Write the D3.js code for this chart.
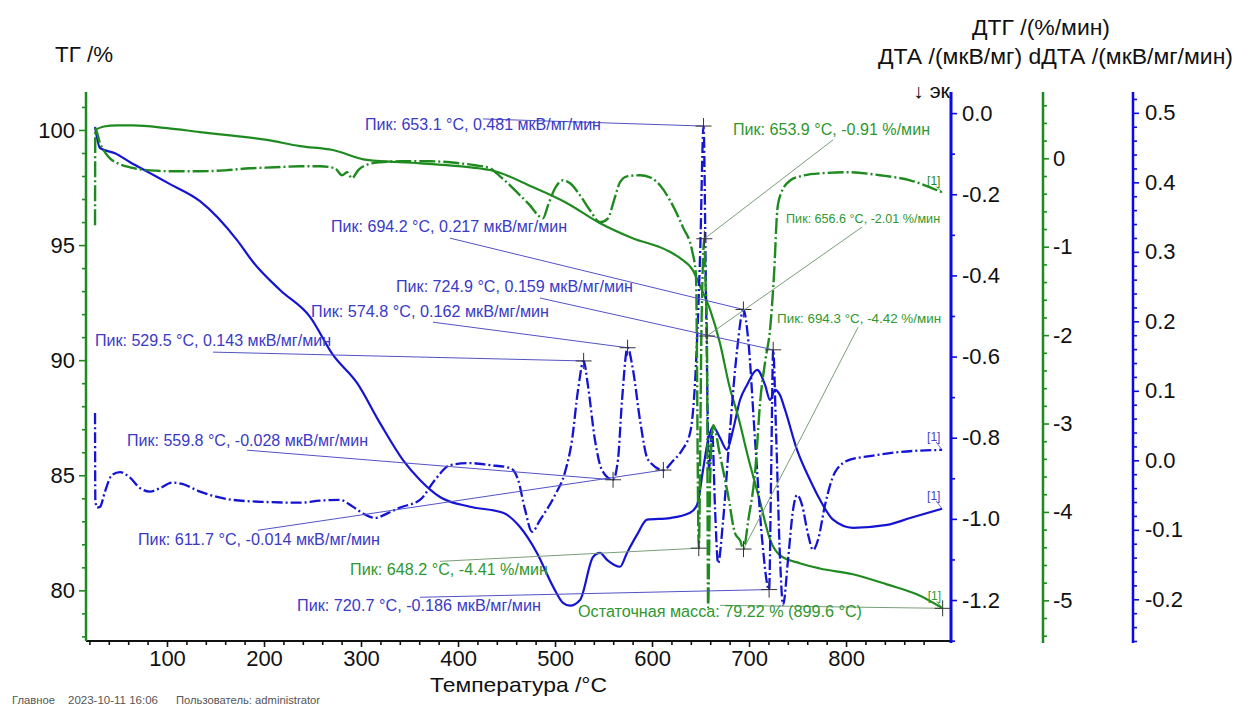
<!DOCTYPE html>
<html><head><meta charset="utf-8">
<script src="https://cdn.jsdelivr.net/npm/d3@7"></script>
<style>
body{margin:0;background:#fff;}
svg{display:block;font-family:"Liberation Sans",Arial,sans-serif;}
</style>
</head><body>
<svg id="c" width="1237" height="705"></svg>
<script>
// ---------------- DATA ----------------
// TG (%) vs temperature (°C)
const tgT = [25.8, 35, 48.5, 65, 100, 134, 170, 203, 237, 271, 306, 361, 433, 477, 512, 546, 580, 615, 629, 642, 650, 660, 670, 680, 689, 698, 711, 722, 732, 753, 773, 807, 842, 873, 899.6];
const tgV = [100.0, 100.15, 100.2, 100.2, 100.08, 99.91, 99.74, 99.57, 99.3, 99.13, 98.7, 98.55, 98.26, 97.52, 96.83, 95.96, 95.3, 94.78, 94.43, 93.91, 93.17, 92.17, 90.74, 88.83, 87.52, 85.96, 83.91, 82.17, 81.52, 81.17, 80.95, 80.7, 80.26, 79.83, 79.22];

// DTA (мкВ/мг)
const dtaT = [25.8, 30.9, 46.4, 61.9, 82.5, 103.1, 134, 172.2, 188.7, 216.5, 247.4, 271.1, 295.9, 319.6, 343.3, 360.8, 381.4, 412.4, 446.4, 463.9, 481.4, 498, 508.2, 515.5, 525.8, 539.2, 546.4, 553.6, 567, 574.2, 584.6, 594.9, 618.6, 639.2, 646.4, 652.6, 657.8, 662.9, 670.1, 677.3, 683.5, 690.7, 697.9, 708.3, 716.5, 721.6, 726.8, 731.9, 737.1, 749.5, 762.9, 773.2, 786.6, 807.2, 842.3, 866, 899];
const dtaV = [-0.034, -0.086, -0.099, -0.121, -0.148, -0.175, -0.217, -0.313, -0.367, -0.436, -0.502, -0.596, -0.665, -0.764, -0.855, -0.904, -0.946, -0.970, -0.985, -1.02, -1.084, -1.167, -1.207, -1.214, -1.2, -1.094, -1.084, -1.101, -1.118, -1.084, -1.039, -1.002, -0.998, -0.985, -0.966, -0.879, -0.805, -0.773, -0.8, -0.83, -0.781, -0.707, -0.67, -0.633, -0.67, -0.707, -0.682, -0.695, -0.731, -0.83, -0.904, -0.953, -1.002, -1.022, -1.015, -0.998, -0.975];

// DTG (%/мин)
const dtgT = [25.8, 26.1, 30.9, 36.1, 41.2, 51.6, 61.9, 82.5, 108.3, 134, 159.8, 185.6, 211.3, 237.1, 257.7, 273.2, 280.4, 285.6, 290.7, 296.9, 307.2, 319.6, 340.2, 371.1, 402.1, 417.5, 433, 443.3, 453.6, 463.9, 474.2, 482.5, 487.6, 492.8, 500, 508.2, 515.5, 525.8, 536.1, 546.4, 554.6, 560.8, 567, 574.2, 587.6, 597.9, 608.2, 618.5, 631.9, 641.2, 645.3, 648.2, 651.1, 653.9, 655.1, 656.6, 657.8, 659.9, 663, 670.1, 678.4, 685.6, 690.7, 694.3, 699.2, 706.4, 711.6, 716.8, 721.9, 726, 729.1, 732.2, 742.5, 752.6, 773.2, 804.1, 835, 866, 899];
const dtgV = [-0.758, 0.339, 0.170, 0.068, 0, -0.068, -0.102, -0.136, -0.147, -0.147, -0.136, -0.113, -0.102, -0.09, -0.09, -0.113, -0.192, -0.158, -0.226, -0.136, -0.068, -0.045, -0.034, -0.034, -0.057, -0.079, -0.113, -0.204, -0.305, -0.419, -0.532, -0.645, -0.679, -0.532, -0.339, -0.249, -0.283, -0.419, -0.588, -0.724, -0.679, -0.475, -0.271, -0.204, -0.192, -0.215, -0.305, -0.475, -0.781, -1.041, -1.324, -4.41, -1.833, -0.91, -1.38, -2.01, -5.079, -3.643, -3.02, -3.36, -3.812, -4.242, -4.321, -4.42, -4.095, -3.529, -2.738, -2.285, -1.912, -1.267, -0.588, -0.419, -0.249, -0.204, -0.17, -0.158, -0.192, -0.249, -0.385];

// dDTA (мкВ/мг/мин)
const ddtaT = [25.8, 26.1, 27.8, 30.9, 36.1, 43.3, 51.6, 61.9, 72.2, 82.5, 92.8, 105.2, 115.5, 134, 168, 203.1, 237.1, 257.7, 278.4, 291.8, 304.1, 314.4, 327.8, 340.2, 360.8, 376.3, 391.8, 412.4, 433, 453.6, 461.9, 469.1, 476.3, 484.5, 500, 510.3, 517.5, 523.7, 529.5, 533.8, 541.2, 548.4, 559.8, 564.9, 569.1, 574.8, 580.4, 587.6, 595.8, 611.7, 620.8, 631.1, 639.3, 644.5, 649.7, 653.1, 655.7, 658.8, 661.9, 665, 668.1, 673.3, 680.4, 687.7, 694.2, 699.2, 706.2, 713.5, 720.7, 722.7, 724.9, 727.8, 732, 735.1, 740.2, 745.4, 749.5, 754.6, 760.9, 766, 771.2, 778.4, 788.7, 804.1, 824.7, 855.7, 899];
const ddtaV = [0.068, -0.057, -0.068, -0.067, -0.045, -0.021, -0.017, -0.025, -0.040, -0.045, -0.040, -0.032, -0.034, -0.045, -0.057, -0.060, -0.061, -0.058, -0.057, -0.067, -0.078, -0.083, -0.076, -0.068, -0.057, -0.028, -0.007, -0.004, -0.007, -0.011, -0.028, -0.071, -0.103, -0.086, -0.050, -0.017, 0.029, 0.101, 0.143, 0.109, 0.029, -0.014, -0.028, 0.001, 0.087, 0.162, 0.130, 0.058, 0.001, -0.014, -0.002, 0.015, 0.040, 0.116, 0.303, 0.481, 0.231, -0.014, 0.044, -0.071, -0.148, -0.086, 0.044, 0.159, 0.217, 0.173, 0.029, -0.114, -0.186, -0.028, 0.159, 0.044, -0.143, -0.208, -0.143, -0.071, -0.050, -0.064, -0.107, -0.129, -0.114, -0.064, -0.017, 0.001, 0.006, 0.012, 0.015];

// tick labels
const xTicks = [100, 200, 300, 400, 500, 600, 700, 800];
const tgTicks = [80, 85, 90, 95, 100];
const dtaTicks = [-1.2, -1.0, -0.8, -0.6, -0.4, -0.2, 0.0];
const dtgTicks = [-5, -4, -3, -2, -1, 0];
const ddtaTicks = [-0.2, -0.1, 0.0, 0.1, 0.2, 0.3, 0.4, 0.5];

// peak annotations: text, temperature, value, curve
const noteText = ["Пик: 653.1 °C, 0.481 мкВ/мг/мин", "Пик: 694.2 °C, 0.217 мкВ/мг/мин", "Пик: 724.9 °C, 0.159 мкВ/мг/мин", "Пик: 574.8 °C, 0.162 мкВ/мг/мин", "Пик: 529.5 °C, 0.143 мкВ/мг/мин", "Пик: 559.8 °C, -0.028 мкВ/мг/мин", "Пик: 611.7 °C, -0.014 мкВ/мг/мин", "Пик: 720.7 °C, -0.186 мкВ/мг/мин", "Пик: 653.9 °C, -0.91 %/мин", "Пик: 656.6 °C, -2.01 %/мин", "Пик: 694.3 °C, -4.42 %/мин", "Пик: 648.2 °C, -4.41 %/мин", "Остаточная масса: 79.22 % (899.6 °C)"];
const noteT = [653.1, 694.2, 724.9, 574.8, 529.5, 559.8, 611.7, 720.7, 653.9, 656.6, 694.3, 648.2, 899.6];
const noteV = [0.481, 0.217, 0.159, 0.162, 0.143, -0.028, -0.014, -0.186, -0.91, -2.01, -4.42, -4.41, 79.22];
const noteCurve = ["ddta", "ddta", "ddta", "ddta", "ddta", "ddta", "ddta", "ddta", "dtg", "dtg", "dtg", "dtg", "tg"];

// ---------------- LAYOUT ----------------
const plot = {left: 86, right: 951, top: 92, bottom: 641};
const x = d3.scaleLinear().domain([16.5, 908.2]).range([plot.left, plot.right]);
const yTG = d3.scaleLinear().domain([77.8, 101.65]).range([plot.bottom, plot.top]);
const yDTA = d3.scaleLinear().domain([-1.301, 0.052]).range([plot.bottom, plot.top]);
const yDTG = d3.scaleLinear().domain([-5.46, 0.75]).range([plot.bottom, plot.top]);
const yDD = d3.scaleLinear().domain([-0.26, 0.53]).range([plot.bottom, plot.top]);
const yOf = {tg: yTG, dta: yDTA, dtg: yDTG, ddta: yDD};

// label placement in (temperature, TG-axis units): label x, label y, leader start x, leader start y, width
const notePos = [
  [304.1, 100.0, 425.8, 100.48, 236],
  [269.1, 95.57, 391.8, 95.30, 236],
  [336.1, 92.96, 484.5, 92.70, 237],
  [248.5, 91.87, 374.2, 91.65, 238],
  [25.8, 90.61, 147.4, 90.35, 236],
  [58.8, 86.26, 182.5, 86.09, 241],
  [70.1, 81.96, 193.8, 82.61, 242],
  [234, 79.09, 360.8, 79.70, 244],
  [683.5, 99.78, 786.6, 99.57, 197],
  [738.2, 95.96, 816.5, 95.78, 154],
  [728.9, 91.61, 812.4, 91.43, 164],
  [288.7, 80.65, 381.4, 81.26, 198],
  [523.7, 78.83, 670.1, 79.35, 284]
];

const GREEN = "#1f8a1f", BLUE = "#1414d2", AXBLUE = "#0a0ae6";
const NOTE_BLUE = "#3a3ac6", NOTE_GREEN = "#2f982f";
const LEAD_BLUE = "#5252c8", LEAD_GREEN = "#7a9e7a";

const svg = d3.select("#c");
svg.append("defs").append("clipPath").attr("id", "clip")
  .append("rect").attr("x", plot.left).attr("y", plot.top - 2)
  .attr("width", plot.right - plot.left).attr("height", plot.bottom - plot.top + 2);

// ---------------- AXES ----------------
function styleAxis(sel, color, fs) {
  sel.select(".domain").remove();
  sel.selectAll(".tick line").attr("stroke", color).attr("stroke-width", 1.6);
  sel.selectAll(".tick text").attr("fill", "#111").style("font-size", fs + "px")
    .style("font-family", '"Liberation Sans", Arial, sans-serif');
}
function minorVals(lo, hi, step, majorStep) {
  const out = [];
  const n = Math.round((hi - lo) / step);
  for (let i = 0; i <= n; i++) {
    const v = +(lo + i * step).toFixed(4);
    const r = v / majorStep;
    if (Math.abs(r - Math.round(r)) > 1e-6) out.push(v);
  }
  return out;
}

// X axis
const gx = svg.append("g").attr("transform", `translate(0,${plot.bottom})`);
gx.call(d3.axisBottom(x).tickValues(xTicks).tickSize(6).tickPadding(3).tickSizeOuter(0).tickFormat(d => d));
styleAxis(gx, "#111", 22);
const gxm = svg.append("g").attr("transform", `translate(0,${plot.bottom})`);
gxm.call(d3.axisBottom(x).tickValues(minorVals(20, 900, 20, 100)).tickSize(4).tickFormat(""));
styleAxis(gxm, "#111", 22);
svg.append("line").attr("x1", plot.left).attr("x2", plot.right).attr("y1", plot.bottom).attr("y2", plot.bottom)
  .attr("stroke", "#111").attr("stroke-width", 2);

// left TG axis
const gl = svg.append("g").attr("transform", `translate(${plot.left},0)`);
gl.call(d3.axisLeft(yTG).tickValues(tgTicks).tickSize(7).tickPadding(4).tickFormat(d => d));
styleAxis(gl, GREEN, 22);
const glm = svg.append("g").attr("transform", `translate(${plot.left},0)`);
glm.call(d3.axisLeft(yTG).tickValues(minorVals(78, 101, 1, 5)).tickSize(4).tickFormat(""));
styleAxis(glm, GREEN, 22);
svg.append("line").attr("x1", plot.left).attr("x2", plot.left).attr("y1", plot.top).attr("y2", plot.bottom)
  .attr("stroke", GREEN).attr("stroke-width", 2.5);

// right axes
function rightAxis(xpos, scale, ticks, minors, color, fmt, lw, pad) {
  const ga = svg.append("g").attr("transform", `translate(${xpos},0)`);
  ga.call(d3.axisRight(scale).tickValues(ticks).tickSize(6).tickPadding(pad).tickFormat(fmt));
  styleAxis(ga, color, 22);
  const gm = svg.append("g").attr("transform", `translate(${xpos},0)`);
  gm.call(d3.axisRight(scale).tickValues(minors).tickSize(4).tickFormat(""));
  styleAxis(gm, color, 22);
  svg.append("line").attr("x1", xpos).attr("x2", xpos).attr("y1", plot.top).attr("y2", plot.bottom + 2)
    .attr("stroke", color).attr("stroke-width", lw);
}
rightAxis(plot.right, yDTA, dtaTicks, minorVals(-1.3, 0.0, 0.1, 0.2), AXBLUE, d => d.toFixed(1), 3, 5);
rightAxis(1043, yDTG, dtgTicks, minorVals(-5.4, 0.6, 0.2, 1), GREEN, d => d.toFixed(0), 2.5, 4);
rightAxis(1133, yDD, ddtaTicks, minorVals(-0.26, 0.52, 0.02, 0.1), AXBLUE, d => d.toFixed(1), 2.5, 6);

// ---------------- CURVES ----------------
const gc = svg.append("g").attr("clip-path", "url(#clip)");
function curve(T, V, y, color, w, dash) {
  const line = d3.line().x((d, i) => x(T[i])).y(d => y(d)).curve(d3.curveMonotoneX);
  const p = gc.append("path").datum(V).attr("d", line).attr("fill", "none")
    .attr("stroke", color).attr("stroke-width", w).attr("stroke-linejoin", "round");
  if (dash) p.attr("stroke-dasharray", dash);
}
curve(dtaT, dtaV, yDTA, BLUE, 2.2, null);
curve(tgT, tgV, yTG, GREEN, 2.2, null);
curve(ddtaT, ddtaV, yDD, BLUE, 2.3, "11,3,2,3");
curve(dtgT, dtgV, yDTG, GREEN, 2.4, "16,3,2,3");

// ---------------- ANNOTATIONS ----------------
const ga = svg.append("g");
noteText.forEach((t, i) => {
  const kind = noteCurve[i];
  const isBlue = kind === "ddta";
  const small = (i === 9 || i === 10);
  const pos = notePos[i];
  const px = x(noteT[i]), py = yOf[kind](noteV[i]);
  const lx = x(pos[2]), ly = yTG(pos[3]);
  ga.append("line").attr("x1", lx).attr("y1", ly).attr("x2", px).attr("y2", py)
    .attr("stroke", isBlue ? LEAD_BLUE : LEAD_GREEN).attr("stroke-width", 1);
  ga.append("line").attr("x1", px - 8).attr("x2", px + 8).attr("y1", py).attr("y2", py).attr("stroke", "#333").attr("stroke-width", 1);
  ga.append("line").attr("x1", px).attr("x2", px).attr("y1", py - 8).attr("y2", py + 8).attr("stroke", "#333").attr("stroke-width", 1);
  ga.append("text").attr("x", x(pos[0])).attr("y", yTG(pos[1]))
    .attr("fill", isBlue ? NOTE_BLUE : NOTE_GREEN)
    .style("font-size", (small ? 13 : 16) + "px")
    .attr("textLength", pos[4]).attr("lengthAdjust", "spacingAndGlyphs")
    .text(t);
});

// [1] end markers
const endMarks = [
  [dtgT[dtgT.length - 1], dtgV[dtgV.length - 1], "dtg", GREEN, -7],
  [ddtaT[ddtaT.length - 1], ddtaV[ddtaV.length - 1], "ddta", "#4545c8", -9],
  [dtaT[dtaT.length - 1], dtaV[dtaV.length - 1], "dta", "#4545c8", -9],
  [tgT[tgT.length - 1], tgV[tgV.length - 1], "tg", NOTE_GREEN, -8]
];
endMarks.forEach(m => {
  const px = x(m[0]), py = yOf[m[2]](m[1]);
  ga.append("text").attr("x", px - 15).attr("y", py + m[4]).attr("fill", m[3])
    .style("font-size", "12px").text("[1]");
  ga.append("line").attr("x1", px - 6).attr("y1", py + m[4] + 1).attr("x2", px).attr("y2", py)
    .attr("stroke", m[3]).attr("stroke-width", 0.8);
});

// ---------------- TITLES ----------------
function txt(s, xx, yy, fs, opts = {}) {
  const t = svg.append("text").attr("x", xx).attr("y", yy).style("font-size", fs + "px")
    .attr("fill", opts.fill || "#111").text(s);
  if (opts.anchor) t.attr("text-anchor", opts.anchor);
  if (opts.len) t.attr("textLength", opts.len).attr("lengthAdjust", "spacingAndGlyphs");
  return t;
}
txt("ТГ /%", 55, 62, 22, {len: 58});
txt("ДТГ /(%/мин)", 1041, 35, 22, {anchor: "middle", len: 138});
txt("ДТА /(мкВ/мг) dДТА /(мкВ/мг/мин)", 878, 64, 22, {len: 355});
txt("↓ эк", 913, 98, 20, {len: 37});
txt("Температура /°C", 430, 692, 21, {len: 177});
txt("Главное", 12, 704, 11, {fill: "#555", len: 43});
txt("2023-10-11 16:06", 68, 704, 11, {fill: "#555", len: 90});
txt("Пользователь: administrator", 176, 704, 11, {fill: "#555", len: 144});
</script>
</body></html>
